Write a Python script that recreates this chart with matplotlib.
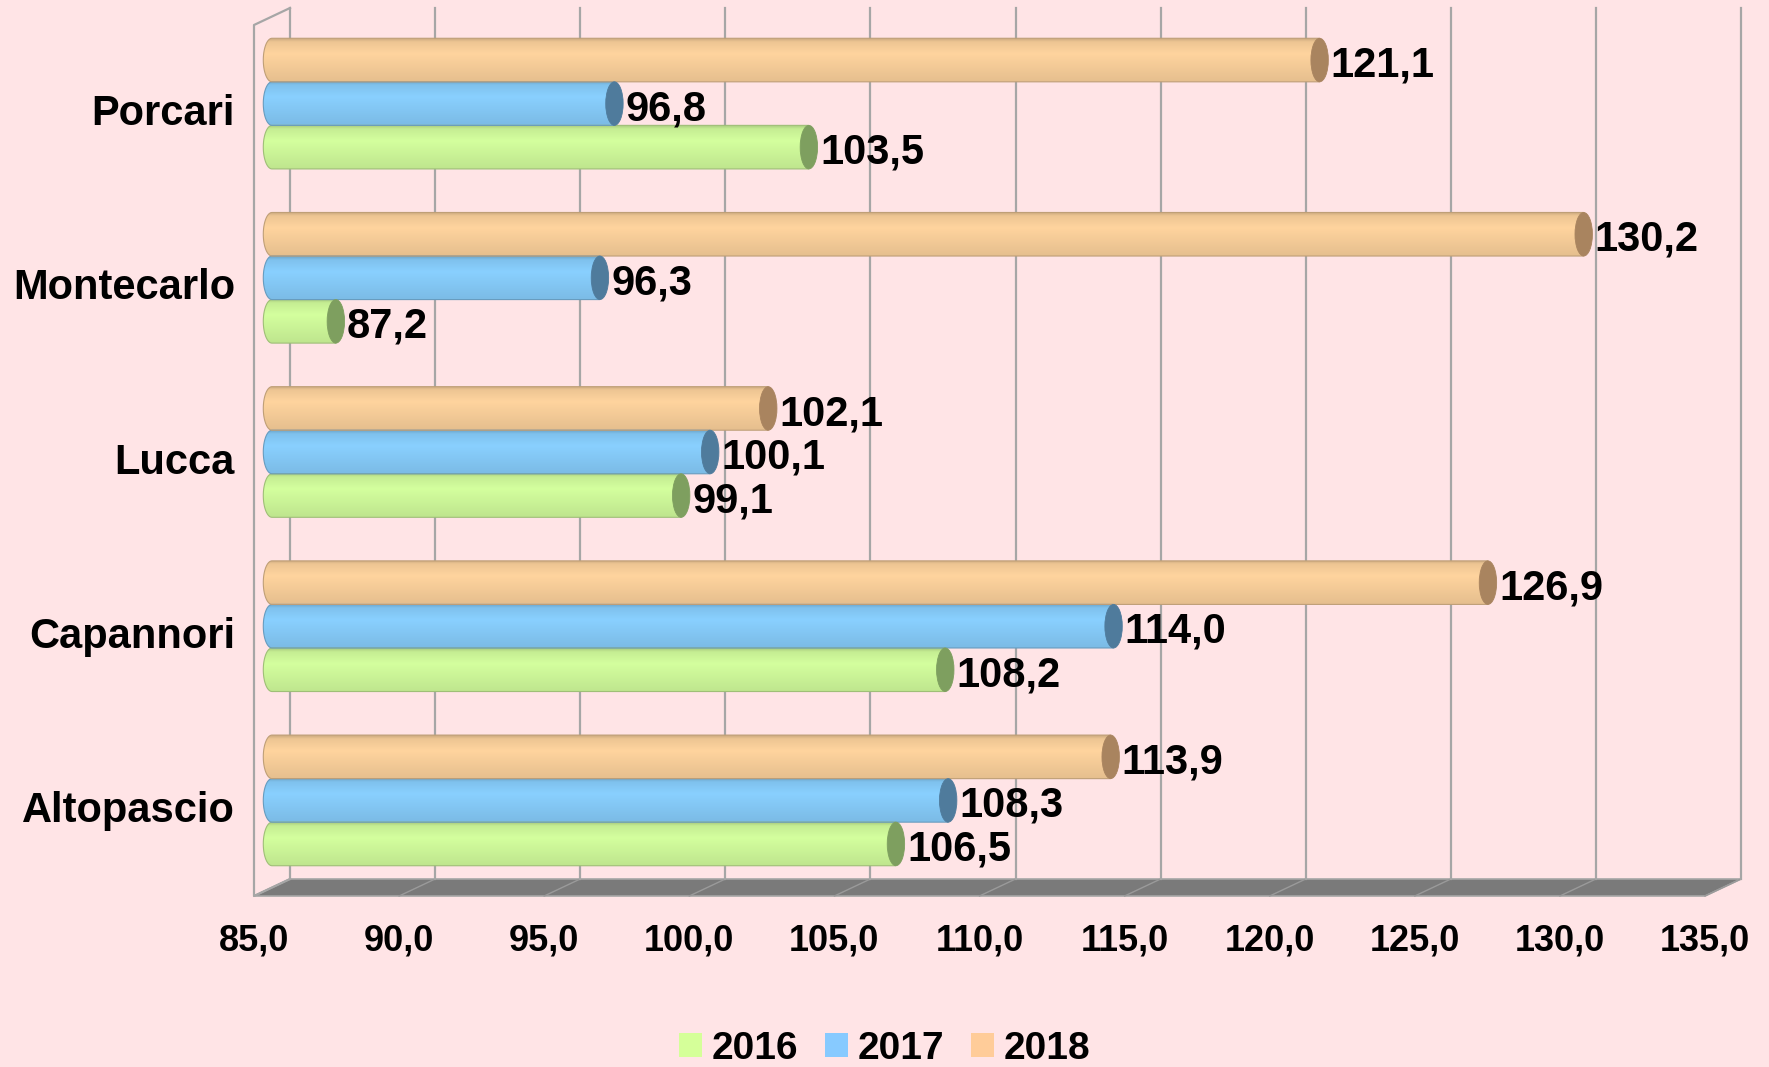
import numpy as np
import matplotlib.pyplot as plt
from matplotlib.path import Path
from matplotlib.patches import PathPatch, Ellipse, Polygon, Patch
from matplotlib.lines import Line2D
from matplotlib.transforms import ScaledTranslation, IdentityTransform
from matplotlib.colors import to_rgb

plt.rcParams['font.family'] = ['Liberation Sans', 'DejaVu Sans']
plt.rcParams['font.weight'] = 'bold'

# data
comuni = ['Altopascio', 'Capannori', 'Lucca', 'Montecarlo', 'Porcari']
anni = ['2016', '2017', '2018']
v2016 = [106.5, 108.2, 99.1, 87.2, 103.5]
v2017 = [108.3, 114.0, 100.1, 96.3, 96.8]
v2018 = [113.9, 126.9, 102.1, 130.2, 121.1]
xticks = [85, 90, 95, 100, 105, 110, 115, 120, 125, 130, 135]

body_colors = ['#D4FF9E', '#89D0FF', '#FFD49E']
cap_colors = ['#7E9F5F', '#4F7B9C', '#A9845F']
legend_colors = ['#D5FF99', '#87CAFF', '#FFCC99']
bg = '#FFE4E6'
grid = '#A6A6A6'

fig = plt.figure(figsize=(17.69, 10.67), dpi=100, facecolor=bg)
# axes = middle depth plane of the 3d box
ax = fig.add_axes([272 / 1769, 179.5 / 1067, 1451 / 1769, 871 / 1067])
ax.set_xlim(85, 135)
ax.set_ylim(-0.5, 4.5)
ax.axis('off')

dx, dy = 0.18, 0.085  # half depth offset, inches
front = ax.transData + ScaledTranslation(-dx, -dy, fig.dpi_scale_trans)
ident = IdentityTransform()


def p3(x, y, d):
    # d = 1 back wall, d = -1 front edge
    px, py = ax.transData.transform((x, y))
    return px + d * dx * 100, py + d * dy * 100


y_lo, y_hi = ax.get_ylim()
x_lo, x_hi = ax.get_xlim()

# floor
floor = Polygon([p3(x_lo, y_lo, 1), p3(x_hi, y_lo, 1), p3(x_hi, y_lo, -1), p3(x_lo, y_lo, -1)],
                closed=True, facecolor='#7A7A7A', edgecolor=grid, lw=1.2, transform=ident,
                zorder=0.5, clip_on=False)
ax.add_artist(floor)
for t in xticks:
    (x0, y0), (x1, y1) = p3(t, y_lo, 1), p3(t, y_lo, -1)
    ax.add_artist(Line2D([x0, x1], [y0, y1], color='#9A9A9A', lw=1.0, transform=ident,
                         zorder=0.6, clip_on=False))
    (x0, y0), (x1, y1) = p3(t, y_lo, 1), p3(t, y_hi, 1)
    ax.add_artist(Line2D([x0, x1], [y0, y1], color=grid, lw=1.6, transform=ident,
                         zorder=0.6, clip_on=False))

# left side wall outline
pts = [p3(x_lo, y_hi, 1), p3(x_lo, y_hi, -1), p3(x_lo, y_lo, -1), p3(x_lo, y_lo, 1)]
ax.add_artist(Line2D([p[0] for p in pts], [p[1] for p in pts], color=grid, lw=1.6,
                     transform=ident, zorder=0.6, clip_on=False))

# cylinders
h = 0.25
a = 0.30  # half width of end ellipse, data units
tt = np.linspace(0, np.pi, 40)
shade_t = np.linspace(0, 1, 60)
shade = np.interp(shade_t, [0, 0.08, 0.35, 1.0], [0.80, 0.93, 1.0, 0.90])

for i, vals in enumerate([v2016, v2017, v2018]):
    base = np.array(to_rgb(body_colors[i]))
    grad = np.clip(shade[:, None, None] * base[None, None, :], 0, 1)
    edge = base * 0.75
    for j, v in enumerate(vals):
        yc = j + (i - 1) * h
        y0, y1 = yc - h / 2, yc + h / 2
        xs = x_lo - a * np.sin(tt)
        ys = yc - h / 2 * np.cos(tt)
        verts = [(v, y0)] + list(zip(xs, ys)) + [(v, y1), (v, y0)]
        codes = [Path.MOVETO] + [Path.LINETO] * (len(verts) - 2) + [Path.CLOSEPOLY]
        path = Path(verts, codes)
        pp = PathPatch(path, facecolor='none', edgecolor=edge, lw=0.8, zorder=3, clip_on=False)
        im = ax.imshow(grad, extent=[x_lo - a, v, y0, y1], origin='upper', aspect='auto',
                       interpolation='bilinear', zorder=2)
        im.set_clip_box(fig.bbox)
        im.set_clip_path(PathPatch(path, transform=ax.transData))
        ax.add_patch(pp)
        ax.add_patch(Ellipse((v, yc), 2 * a, h, facecolor=cap_colors[i], edgecolor=cap_colors[i],
                             lw=0.6, zorder=4, clip_on=False))
        ax.annotate(f'{v:.1f}'.replace('.', ','), xy=(v, yc), xytext=(8, -4),
                    textcoords='offset points', ha='left', va='center', fontsize=30,
                    fontweight='bold', annotation_clip=False, zorder=5)

ax.set_xlim(x_lo, x_hi)
ax.set_ylim(y_lo, y_hi)

# axis labels on the front plane
for t in xticks:
    ax.text(t, y_lo, f'{t:.1f}'.replace('.', ','),
            transform=front + ScaledTranslation(0, -0.45, fig.dpi_scale_trans),
            ha='center', va='center', fontsize=26, fontweight='bold')
for j, name in enumerate(comuni):
    ax.text(x_lo, j, name, transform=front + ScaledTranslation(-0.19, -0.02, fig.dpi_scale_trans),
            ha='right', va='center', fontsize=30, fontweight='bold')

handles = [Patch(facecolor=c, edgecolor='none') for c in legend_colors]
fig.legend(handles, anni, loc='lower center', bbox_to_anchor=(0.5, 0.0), ncol=3,
           frameon=False, prop={'weight': 'bold', 'size': 28}, handlelength=0.58,
           handleheight=0.58, handletextpad=0.25, columnspacing=0.7, borderpad=0,
           borderaxespad=0)

fig.savefig('out.png', dpi=100, facecolor=bg)
